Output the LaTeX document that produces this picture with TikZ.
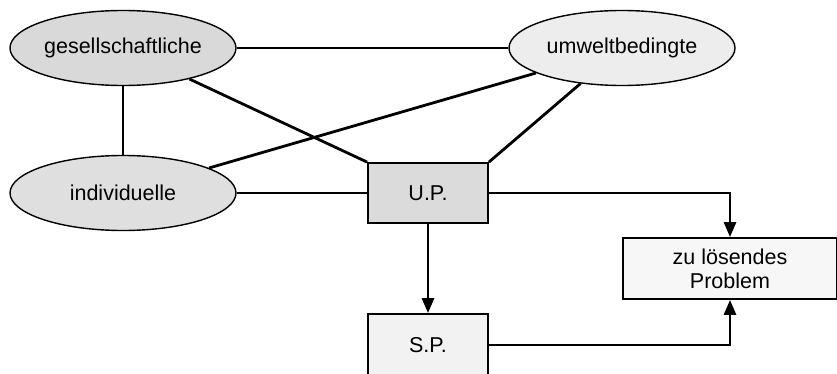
\documentclass[tikz,border=0pt]{standalone}
\usepackage{fontspec}
\setmainfont{Liberation Sans}
\usetikzlibrary{shapes.geometric,arrows.meta}
\begin{document}
\begin{tikzpicture}[x=1pt,y=-1pt,
  ell/.style={ellipse,draw,line width=1.4pt,minimum width=226pt,minimum height=75pt,inner sep=0pt,font=\fontsize{21.5}{24}\selectfont},
  bx/.style={rectangle,draw,line width=1.8pt,inner sep=0pt,font=\fontsize{21.5}{24}\selectfont,align=center},
  conn/.style={line width=2.8pt},
  arr/.style={line width=2.8pt,-{Triangle[length=15pt,width=12pt]}}]
\clip (0,0) rectangle (837,374);
\node[ell,fill=gray!30] (g) at (123,48) {gesellschaftliche};
\node[ell,fill=gray!14] (u) at (622,48) {umweltbedingte};
\node[ell,fill=gray!25] (i) at (123,193) {individuelle};
\node[bx,fill=gray!28,minimum width=120pt,minimum height=60pt] (up) at (428,193) {U.P.};
\node[bx,fill=gray!10,minimum width=120pt,minimum height=62pt] (sp) at (428,345) {S.P.};
\node[bx,fill=gray!6,minimum width=214pt,minimum height=61pt] (pb) at (730,268.5) {zu lösendes\\Problem};
\draw[conn] (g) -- (u);
\draw[conn] (g) -- (i);
\draw[conn] (g) -- (up.north west);
\draw[conn] (i) -- (u);
\draw[conn] (u) -- (up.north east);
\draw[conn] (i) -- (up);
\draw[arr] (up) -- (sp);
\draw[arr] (up.east) -| (pb.north);
\draw[arr] (sp.east) -| (pb.south);
\end{tikzpicture}
\end{document}
